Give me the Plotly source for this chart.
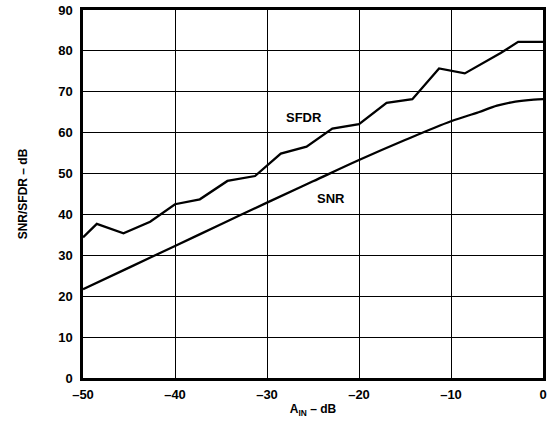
import plotly.graph_objects as go

# SFDR curve
sfdr_x = [-50, -48.5, -45.6, -42.7, -40, -37.3, -34.3, -31.3, -28.5, -25.7,
          -22.9, -20.0, -17.0, -14.2, -11.3, -8.5, -4.6, -2.7, 0]
sfdr_y = [34.4, 37.7, 35.4, 38.2, 42.5, 43.7, 48.2, 49.4, 54.9, 56.6,
          61.0, 62.1, 67.3, 68.2, 75.7, 74.5, 79.5, 82.2, 82.2]

# SNR curve
snr_x = [-50, -45, -40, -35, -30, -25, -20, -15, -10, -7, -5, -3, -1, 0]
snr_y = [21.7, 27.0, 32.3, 37.6, 42.9, 48.1, 53.3, 58.2, 62.8, 65.0, 66.6, 67.6, 68.1, 68.2]

x_ticks = [-50, -40, -30, -20, -10, 0]
x_tick_labels = ["–50", "–40", "–30", "–20", "–10", "0"]
y_ticks = [0, 10, 20, 30, 40, 50, 60, 70, 80, 90]

font = dict(family="Liberation Sans, Arial, sans-serif", color="black")
bold = dict(size=13, weight="bold", **font)

fig = go.Figure()

fig.add_trace(go.Scatter(x=sfdr_x, y=sfdr_y, mode="lines",
                         line=dict(color="black", width=2.3), name="SFDR"))
fig.add_trace(go.Scatter(x=snr_x, y=snr_y, mode="lines",
                         line=dict(color="black", width=2.3, shape="spline"), name="SNR"))

# curve labels
fig.add_annotation(x=-26, y=63.7, text="<b>SFDR</b>", showarrow=False,
                   font=dict(size=13, **font))
fig.add_annotation(x=-23, y=44.0, text="<b>SNR</b>", showarrow=False,
                   font=dict(size=13, **font))

fig.update_xaxes(range=[-50, 0], tickvals=x_ticks, ticktext=x_tick_labels,
                 showgrid=True, gridcolor="black", gridwidth=1.2,
                 showline=True, linecolor="black", linewidth=2.5, mirror=True,
                 ticks="", ticklabelstandoff=3, zeroline=False, automargin=False,
                 ticklabeloverflow="allow", tickfont=bold,
                 title=dict(text="<b>A<sub>IN</sub> – dB</b>", standoff=4,
                            font=dict(size=12, **font)))
fig.update_yaxes(range=[0, 90], tickvals=y_ticks,
                 showgrid=True, gridcolor="black", gridwidth=1.2,
                 showline=True, linecolor="black", linewidth=2.5, mirror=True,
                 ticks="", ticklabelstandoff=5, zeroline=False, automargin=False,
                 ticklabeloverflow="allow", tickfont=bold,
                 title=dict(text="<b>SNR/SFDR – dB</b>", standoff=28,
                            font=dict(size=12, **font)))

fig.update_layout(
    width=549, height=427,
    margin=dict(l=83, r=6, t=10, b=49),
    plot_bgcolor="white", paper_bgcolor="white",
    showlegend=False,
    font=font,
)

# drop the default 8px page margin so the figure fills the window
fig.write_html("out.html", config={"displayModeBar": False},
               post_script="document.body.style.margin='0';")
